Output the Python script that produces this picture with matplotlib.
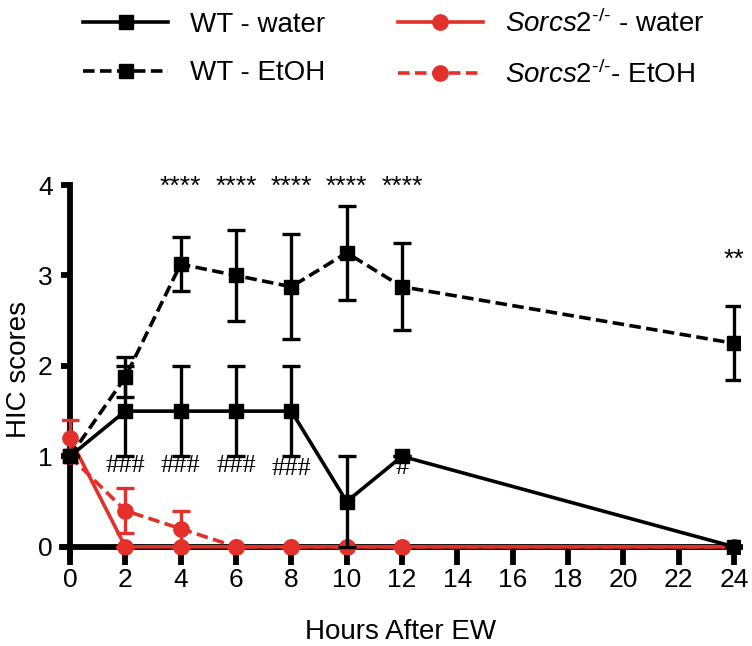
import matplotlib.pyplot as plt
from matplotlib.lines import Line2D
import numpy as np

plt.rcParams['font.family'] = ['Liberation Sans', 'DejaVu Sans']
plt.rcParams['mathtext.fontset'] = 'custom'
plt.rcParams['mathtext.rm'] = 'Liberation Sans'
plt.rcParams['mathtext.it'] = 'Liberation Sans:italic'

hours = [0, 2, 4, 6, 8, 10, 12, 24]

wt_water = [1.0, 1.5, 1.5, 1.5, 1.5, 0.5, 1.0, 0.0]
wt_water_err = [0.0, 0.5, 0.5, 0.5, 0.5, 0.5, 0.0, 0.0]

wt_etoh = [1.0, 1.875, 3.125, 3.0, 2.875, 3.25, 2.875, 2.25]
wt_etoh_err = [0.0, 0.22, 0.3, 0.5, 0.58, 0.52, 0.48, 0.41]

ko_water = [1.2, 0.0, 0.0, 0.0, 0.0, 0.0, 0.0, 0.0]
ko_water_err = [0.2, 0.0, 0.0, 0.0, 0.0, 0.0, 0.0, 0.0]

ko_etoh = [1.0, 0.4, 0.2, 0.0, 0.0, 0.0, 0.0, 0.0]
ko_etoh_err = [0.0, 0.25, 0.2, 0.0, 0.0, 0.0, 0.0, 0.0]

labels = ['WT - water', 'WT - EtOH',
          r'$\mathit{Sorcs2}^{\text{-/-}}$ - water',
          r'$\mathit{Sorcs2}^{\text{-/-}}$- EtOH']

star_x = [4, 6, 8, 10, 12]
hash_x = [2, 4, 6, 8]
hash_y = [0.89, 0.89, 0.89, 0.86]

red = '#e3302a'
dash = (0, (3.2, 1.5))
lw = 2.6

fig = plt.figure(figsize=(7.52, 6.46), dpi=100)
ax = fig.add_axes([0.082, 0.1424, 0.9015, 0.5712])

ekw = dict(capsize=6.3, capthick=2.4, elinewidth=2.4)

ax.errorbar(hours, ko_water, yerr=ko_water_err, color=red, lw=lw, marker='o',
            ms=11, zorder=3, **ekw)
l4 = ax.errorbar(hours, ko_etoh, yerr=ko_etoh_err, color=red, lw=lw, marker='o',
                 ms=11, zorder=3, **ekw)
l4[0].set_linestyle(dash)
ax.errorbar(hours, wt_water, yerr=wt_water_err, color='black', lw=lw, marker='s',
            ms=10.5, zorder=4, **ekw)
l2 = ax.errorbar(hours, wt_etoh, yerr=wt_etoh_err, color='black', lw=lw, marker='s',
                 ms=10.5, zorder=4, **ekw)
l2[0].set_linestyle(dash)

for x in star_x:
    ax.text(x, 3.98, '****', ha='center', va='center', fontsize=19, clip_on=False)
ax.text(24, 3.17, '**', ha='center', va='center', fontsize=19)
for x, y in zip(hash_x, hash_y):
    ax.text(x, y, '###', ha='center', va='center', fontsize=19,
            family='Liberation Serif')
ax.text(12, 0.87, '#', ha='center', va='center', fontsize=19,
        family='Liberation Serif')

ax.set_xlim(-0.3, 24.2)
ax.set_ylim(-0.08, 4)
ax.set_xticks(np.arange(0, 25, 2))
ax.set_yticks([0, 1, 2, 3, 4])
ax.spines['left'].set_position(('data', 0))
ax.spines['bottom'].set_position(('data', 0))
ax.spines['top'].set_visible(False)
ax.spines['right'].set_visible(False)
for s in ['left', 'bottom']:
    ax.spines[s].set_linewidth(4.2)
ax.tick_params(axis='x', width=4.2, length=13, pad=2, labelsize=19)
ax.tick_params(axis='y', width=4.2, length=6.5, pad=6, labelsize=19)
ax.set_xlabel('Hours After EW', fontsize=20, labelpad=20)
ax.set_ylabel('HIC scores', fontsize=20)
ax.yaxis.set_label_coords(-0.044, 0.5)

handles = [
    Line2D([], [], color='black', lw=lw, marker='s', ms=10.5),
    Line2D([], [], color='black', lw=lw, ls=dash, marker='s', ms=10.5),
    Line2D([], [], color=red, lw=lw, marker='o', ms=11),
    Line2D([], [], color=red, lw=lw, ls=dash, marker='o', ms=11),
]
fig.legend(handles, labels, loc='upper left', bbox_to_anchor=(83 / 752, 0.985),
           ncol=2, frameon=False, fontsize=20, handlelength=3.06,
           handletextpad=0.8, columnspacing=2.6, labelspacing=0.8,
           borderpad=0, borderaxespad=0)

fig.savefig('out.png', dpi=100)
